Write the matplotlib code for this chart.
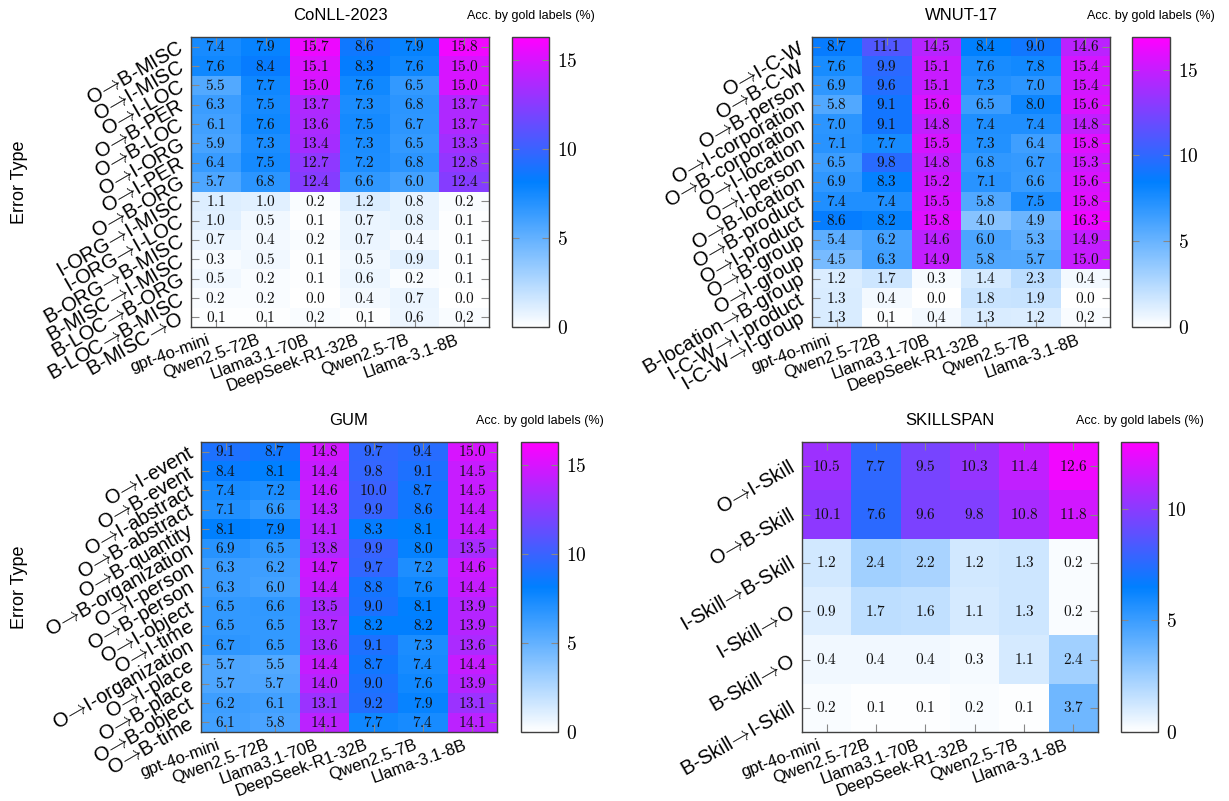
import numpy as np
import matplotlib
matplotlib.use("Agg")
import matplotlib.pyplot as plt
import matplotlib.transforms as mtransforms
from matplotlib.colors import LinearSegmentedColormap
from matplotlib.ticker import FuncFormatter

plt.rcParams['font.family'] = ['Liberation Sans', 'DejaVu Sans']
plt.rcParams['mathtext.fontset'] = 'cm'

models = ["gpt-4o-mini", "Qwen2.5-72B", "Llama3.1-70B", "DeepSeek-R1-32B", "Qwen2.5-7B", "Llama-3.1-8B"]

conll_labels = ["O→B-MISC", "O→I-MISC", "O→I-LOC", "O→B-PER", "O→B-LOC", "O→I-ORG", "O→I-PER", "O→B-ORG",
                "I-ORG→I-MISC", "I-ORG→I-LOC", "B-ORG→B-MISC", "B-MISC→I-MISC", "B-LOC→B-ORG", "B-LOC→B-MISC", "B-MISC→O"]
conll_values = [
    [7.4, 7.9, 15.7, 8.6, 7.9, 15.8],
    [7.6, 8.4, 15.1, 8.3, 7.6, 15.0],
    [5.5, 7.7, 15.0, 7.6, 6.5, 15.0],
    [6.3, 7.5, 13.7, 7.3, 6.8, 13.7],
    [6.1, 7.6, 13.6, 7.5, 6.7, 13.7],
    [5.9, 7.3, 13.4, 7.3, 6.5, 13.3],
    [6.4, 7.5, 12.7, 7.2, 6.8, 12.8],
    [5.7, 6.8, 12.4, 6.6, 6.0, 12.4],
    [1.1, 1.0, 0.2, 1.2, 0.8, 0.2],
    [1.0, 0.5, 0.1, 0.7, 0.8, 0.1],
    [0.7, 0.4, 0.2, 0.7, 0.4, 0.1],
    [0.3, 0.5, 0.1, 0.5, 0.9, 0.1],
    [0.5, 0.2, 0.1, 0.6, 0.2, 0.1],
    [0.2, 0.2, 0.0, 0.4, 0.7, 0.0],
    [0.1, 0.1, 0.2, 0.1, 0.6, 0.2],
]

wnut_labels = ["O→I-C-W", "O→B-C-W", "O→B-person", "O→I-corporation", "O→B-corporation", "O→I-location",
               "O→I-person", "O→B-location", "O→B-product", "O→I-product", "O→B-group", "O→I-group",
               "B-location→B-group", "I-C-W→I-product", "I-C-W→I-group"]
wnut_values = [
    [8.7, 11.1, 14.5, 8.4, 9.0, 14.6],
    [7.6, 9.9, 15.1, 7.6, 7.8, 15.4],
    [6.9, 9.6, 15.1, 7.3, 7.0, 15.4],
    [5.8, 9.1, 15.6, 6.5, 8.0, 15.6],
    [7.0, 9.1, 14.8, 7.4, 7.4, 14.8],
    [7.1, 7.7, 15.5, 7.3, 6.4, 15.8],
    [6.5, 9.8, 14.8, 6.8, 6.7, 15.3],
    [6.9, 8.3, 15.2, 7.1, 6.6, 15.6],
    [7.4, 7.4, 15.5, 5.8, 7.5, 15.8],
    [8.6, 8.2, 15.8, 4.0, 4.9, 16.3],
    [5.4, 6.2, 14.6, 6.0, 5.3, 14.9],
    [4.5, 6.3, 14.9, 5.8, 5.7, 15.0],
    [1.2, 1.7, 0.3, 1.4, 2.3, 0.4],
    [1.3, 0.4, 0.0, 1.8, 1.9, 0.0],
    [1.3, 0.1, 0.4, 1.3, 1.2, 0.2],
]

gum_labels = ["O→I-event", "O→B-event", "O→I-abstract", "O→B-abstract", "O→B-quantity", "O→B-organization",
              "O→I-person", "O→B-person", "O→I-object", "O→I-time", "O→I-organization", "O→I-place",
              "O→B-place", "O→B-object", "O→B-time"]
gum_values = [
    [9.1, 8.7, 14.8, 9.7, 9.4, 15.0],
    [8.4, 8.1, 14.4, 9.8, 9.1, 14.5],
    [7.4, 7.2, 14.6, 10.0, 8.7, 14.5],
    [7.1, 6.6, 14.3, 9.9, 8.6, 14.4],
    [8.1, 7.9, 14.1, 8.3, 8.1, 14.4],
    [6.9, 6.5, 13.8, 9.9, 8.0, 13.5],
    [6.3, 6.2, 14.7, 9.7, 7.2, 14.6],
    [6.3, 6.0, 14.4, 8.8, 7.6, 14.4],
    [6.5, 6.6, 13.5, 9.0, 8.1, 13.9],
    [6.5, 6.5, 13.7, 8.2, 8.2, 13.9],
    [6.7, 6.5, 13.6, 9.1, 7.3, 13.6],
    [5.7, 5.5, 14.4, 8.7, 7.4, 14.4],
    [5.7, 5.7, 14.0, 9.0, 7.6, 13.9],
    [6.2, 6.1, 13.1, 9.2, 7.9, 13.1],
    [6.1, 5.8, 14.1, 7.7, 7.4, 14.1],
]

skill_labels = ["O→I-Skill", "O→B-Skill", "I-Skill→B-Skill", "I-Skill→O", "B-Skill→O", "B-Skill→I-Skill"]
skill_values = [
    [10.5, 7.7, 9.5, 10.3, 11.4, 12.6],
    [10.1, 7.6, 9.6, 9.8, 10.8, 11.8],
    [1.2, 2.4, 2.2, 1.2, 1.3, 0.2],
    [0.9, 1.7, 1.6, 1.1, 1.3, 0.2],
    [0.4, 0.4, 0.4, 0.3, 1.1, 2.4],
    [0.2, 0.1, 0.1, 0.2, 0.1, 3.7],
]

cmap = LinearSegmentedColormap.from_list(
    "wbm", [(0.0, (1, 1, 1)), (0.5, (0.0, 0.5, 1.0)), (1.0, (1.0, 0.0, 1.0))])

W, H = 1229, 801
fig = plt.figure(figsize=(W / 100, H / 100), dpi=100)
fig.patch.set_facecolor("white")


def rect(x0, y0, x1, y1):
    return [x0 / W, 1 - y1 / H, (x1 - x0) / W, (y1 - y0) / H]


def fmt_label(s):
    return s.replace("→", r"$\!\rightarrow\!$")


panels = [
    ("CoNLL-2023", conll_labels, conll_values, (191, 37, 489, 327), (512, 37, 549, 327), 16.3, True),
    ("WNUT-17", wnut_labels, wnut_values, (812, 37, 1110, 327), (1132, 37, 1170, 327), 16.9, False),
    ("GUM", gum_labels, gum_values, (201, 442, 497, 732), (521, 442, 558, 732), 16.3, True),
    ("SKILLSPAN", skill_labels, skill_values, (802, 442, 1098, 732), (1121, 442, 1158, 732), 13.0, False),
]

edge = "#404040"
tickc = "#888888"
xshift = mtransforms.ScaledTranslation(-9 / 100, 0, fig.dpi_scale_trans)

for title, labels, values, r, cr, vmax, left in panels:
    arr = np.array(values)
    ax = fig.add_axes(rect(*r))
    im = ax.imshow(arr, cmap=cmap, vmin=0, vmax=vmax, aspect="auto", interpolation="nearest")
    for i in range(arr.shape[0]):
        for j in range(arr.shape[1]):
            ax.text(j, i, f"${arr[i, j]:.1f}$", ha="center", va="center", fontsize=11, color="#111111")
    ax.set_xticks(range(len(models)))
    ax.set_xticklabels(models, rotation=20, ha="right", va="top", rotation_mode="anchor", fontsize=12)
    ax.set_yticks(range(len(labels)))
    ax.set_yticklabels([fmt_label(s) for s in labels], rotation=30, ha="right", va="center",
                       rotation_mode="anchor", fontsize=14.5)
    ax.tick_params(direction="in", top=True, right=True, bottom=True, left=True,
                   color=tickc, length=6, width=0.8, pad=6)
    ax.tick_params(axis="x", pad=4)
    for lab in ax.get_xticklabels():
        lab.set_transform(lab.get_transform() + xshift)
    for s in ax.spines.values():
        s.set_color(edge)
        s.set_linewidth(1.0)
    ax.set_title(title, fontsize=12, pad=12)
    if left:
        cy = (r[1] + r[3]) / 2
        fig.text(19 / W, 1 - cy / H, "Error Type", rotation=90, ha="center", va="center", fontsize=13)

    cax = fig.add_axes(rect(*cr))
    cb = fig.colorbar(im, cax=cax)
    cb.outline.set_edgecolor(edge)
    cb.outline.set_linewidth(1.0)
    cb.set_ticks([0, 5, 10, 15] if vmax > 15 else [0, 5, 10])
    cax.yaxis.set_major_formatter(FuncFormatter(lambda v, p: f"${v:.0f}$"))
    cax.tick_params(direction="in", left=True, right=True, color=tickc, length=5, width=0.8,
                    labelsize=14, pad=6)
    cax.set_title("Acc. by gold labels (%)", fontsize=9, pad=13)

fig.savefig("out.png", dpi=100, facecolor="white")
